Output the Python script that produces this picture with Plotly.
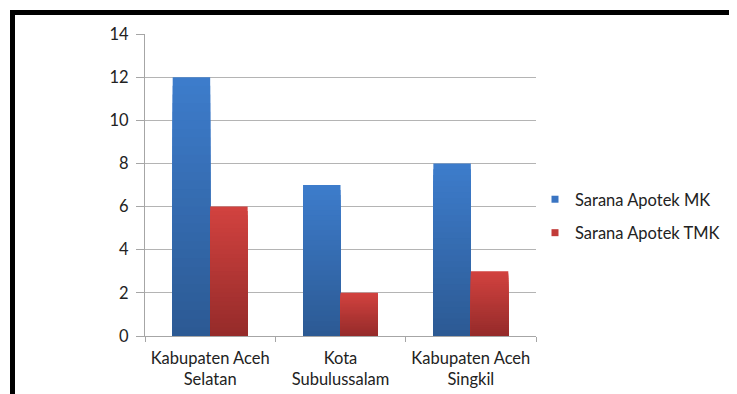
import plotly.graph_objects as go

categories = ["Kabupaten Aceh<br>Selatan", "Kota<br>Subulussalam", "Kabupaten Aceh<br>Singkil"]
series_names = ["Sarana Apotek MK", "Sarana Apotek TMK"]
mk_values = [12, 7, 8]
tmk_values = [6, 2, 3]
y_ticks = [0, 2, 4, 6, 8, 10, 12, 14]

top_colors = [(61, 124, 203), (209, 66, 63)]
bottom_colors = [(44, 90, 148), (150, 43, 42)]
legend_colors = ["#3A74C2", "#C23B39"]

FONT = "Lato"
TEXT = "#222222"
FS = 16.5
N = 30

# page is rendered with an ~8px body offset; margins compensate
L, R, T, B = 137, 209, 26, 66
PW = 737 - L - R
PH = 394 - T - B

fig = go.Figure()


def mix(c1, c2, t):
    return "rgb(%d,%d,%d)" % tuple(round(a + (b - a) * t) for a, b in zip(c1, c2))


for s, vals in enumerate([mk_values, tmk_values]):
    for k in range(N):
        frac = (N - k) / N
        fig.add_trace(go.Bar(
            x=categories,
            y=[v * frac for v in vals],
            offsetgroup=str(s),
            marker=dict(color=mix(top_colors[s], bottom_colors[s], k / (N - 1)), line=dict(width=0)),
            showlegend=False,
            hoverinfo="skip",
        ))

for s, name in enumerate(series_names):
    fig.add_trace(go.Scatter(
        x=[None], y=[None], mode="markers", name=name,
        marker=dict(symbol="square", size=7, color=legend_colors[s]),
        legendgroup=name,
    ))

fig.update_layout(
    width=737, height=394,
    margin=dict(l=L, r=R, t=T, b=B),
    paper_bgcolor="white", plot_bgcolor="white",
    barmode="group", bargap=0.425, bargroupgap=0,
    font=dict(family=FONT, size=FS, color=TEXT),
    legend=dict(x=(535 - 8 - L) / PW, y=(394 - B - (216 - 8)) / PH, xanchor="left", yanchor="middle",
                font=dict(family=FONT, size=FS, color=TEXT),
                tracegroupgap=9, itemwidth=30, bgcolor="rgba(0,0,0,0)"),
    showlegend=True,
)

fig.update_yaxes(
    range=[0, 14], tickvals=y_ticks, showgrid=True, gridcolor="#B4B4B4", gridwidth=1,
    showline=True, linecolor="#A6A6A6", linewidth=1,
    ticks="outside", ticklen=8, tickcolor="#A6A6A6",
    zeroline=False, ticklabelstandoff=4,
)
fig.update_xaxes(
    showline=True, linecolor="#A6A6A6", linewidth=1,
    ticks="outside", ticklen=5, tickcolor="#A6A6A6", tickson="boundaries",
    showgrid=False, ticklabelstandoff=7,
)

# outer black frame (partially outside the visible area)
x_left = (12.5 - 8 - L) / PW
y_top = (394 - B - (12.5 - 8)) / PH
fig.add_shape(type="rect", xref="paper", yref="paper",
              x0=x_left, x1=3, y0=-3, y1=y_top,
              line=dict(color="black", width=5), fillcolor="rgba(0,0,0,0)", layer="above")

fig.write_html("out.html")
